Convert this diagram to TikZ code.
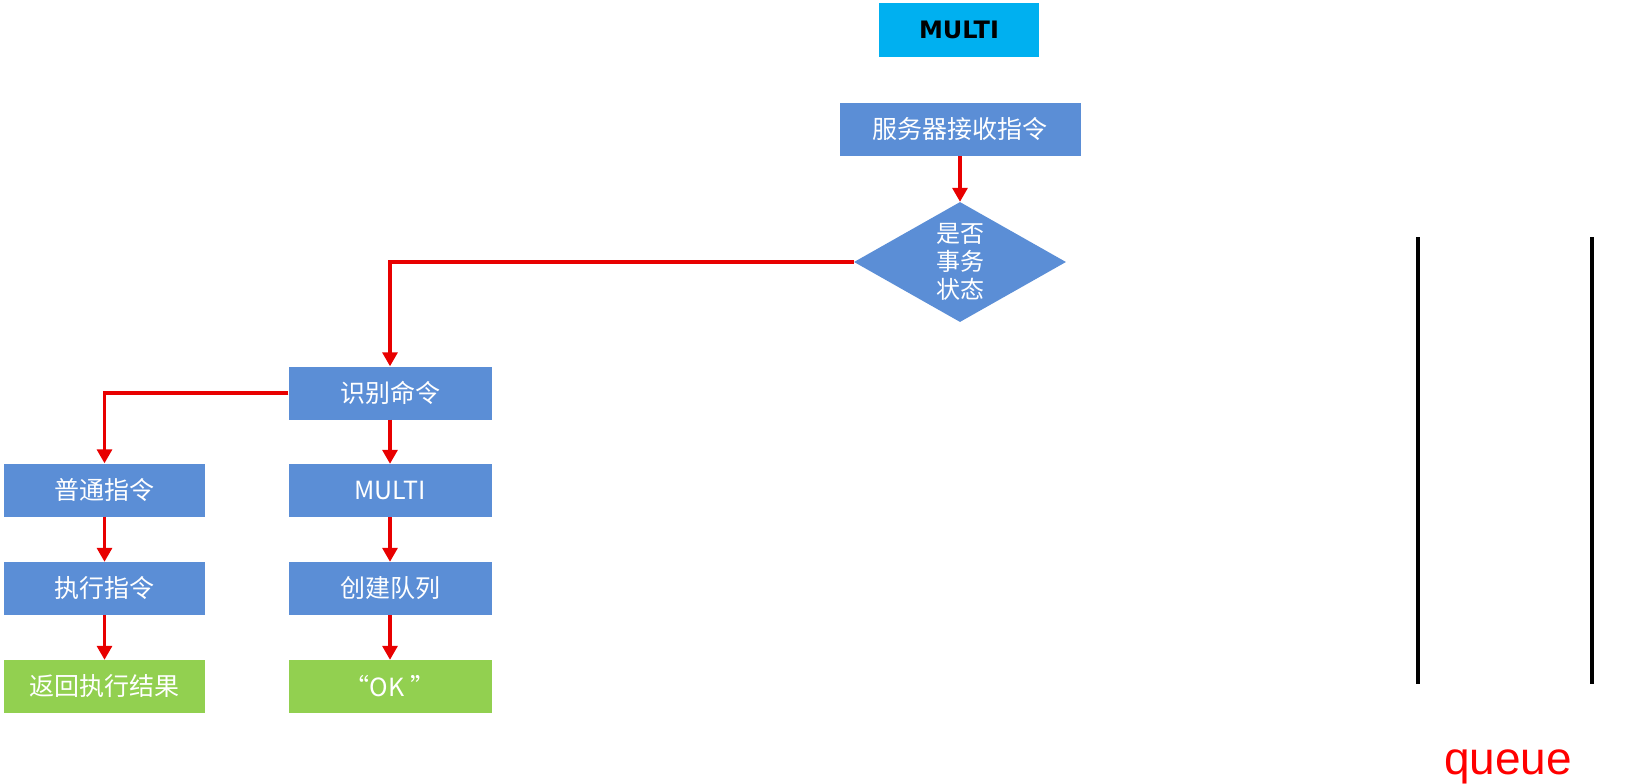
\documentclass[tikz,border=0pt]{standalone}
\usepackage{fontspec}
\setmainfont{Noto Sans CJK SC}
\newfontfamily\latinsans{Liberation Sans}
\newfontfamily\titlefont{DejaVu Sans}
\usetikzlibrary{shapes.geometric,arrows.meta}
\definecolor{boxblue}{RGB}{91,142,214}
\definecolor{boxgreen}{RGB}{146,208,80}
\definecolor{topcyan}{RGB}{0,176,240}
\definecolor{arrowred}{RGB}{232,0,0}
\tikzset{
  bluebox/.style={rectangle, fill=boxblue, text=white, inner sep=0pt,
    minimum width=202pt, minimum height=53pt, font=\fontsize{25}{29}\selectfont},
  greenbox/.style={bluebox, fill=boxgreen},
  flow/.style={draw=arrowred, line width=3.2pt,
    -{Triangle[width=15pt,length=14pt]}},
  queueline/.style={draw=black, line width=3.5pt},
}
\begin{document}
\begin{tikzpicture}[x=1pt,y=-1pt]
\useasboundingbox[fill=white] (0,0) rectangle (1644,784);
% top title
\node[rectangle, fill=topcyan, inner sep=0pt, minimum width=160pt, minimum height=54pt,
  font=\titlefont\fontsize{24}{28}\selectfont\bfseries] (title) at (959,30) {MULTI};
% flow
\node[bluebox, minimum width=241pt] (recv) at (960,129.5) {服务器接收指令};
\node[diamond, fill=boxblue, text=white, inner sep=0pt, aspect=1.77,
  minimum width=212pt, minimum height=120pt, align=center,
  font=\fontsize{24}{28}\selectfont] (state) at (960,262) {是否\\事务\\状态};
\node[bluebox, minimum width=203pt] (ident) at (390,393) {识别命令};
\node[bluebox, minimum width=201pt] (normal) at (104.5,490) {普通指令};
\node[bluebox, minimum width=203pt] (multi) at (390,490.5) {MULTI};
\node[bluebox, minimum width=201pt] (exec) at (104.5,588.5) {执行指令};
\node[bluebox, minimum width=203pt] (queuecreate) at (390,588.5) {创建队列};
\node[greenbox, minimum width=201pt] (result) at (104.5,686.5) {返回执行结果};
\node[greenbox, minimum width=203pt] (ok) at (390,686.5) {“OK ”};
% connectors
\draw[flow] (recv.south) -- (state.north);
\draw[flow] (state.west) -| (ident.north);
\draw[flow] (ident.west) -| (normal.north);
\draw[flow] (ident.south) -- (multi.north);
\draw[flow] (multi.south) -- (queuecreate.north);
\draw[flow] (queuecreate.south) -- (ok.north);
\draw[flow] (normal.south) -- (exec.north);
\draw[flow] (exec.south) -- (result.north);
% queue
\coordinate (qlt) at (1418,237);
\coordinate (qlb) at (1418,684);
\coordinate (qrt) at (1592,237);
\coordinate (qrb) at (1592,684);
\draw[queueline] (qlt) -- (qlb);
\draw[queueline] (qrt) -- (qrb);
\node[anchor=base, text=red, inner sep=0pt, font=\latinsans\fontsize{46}{50}\selectfont]
  (queuelabel) at (1508,774) {queue};
\end{tikzpicture}
\end{document}
